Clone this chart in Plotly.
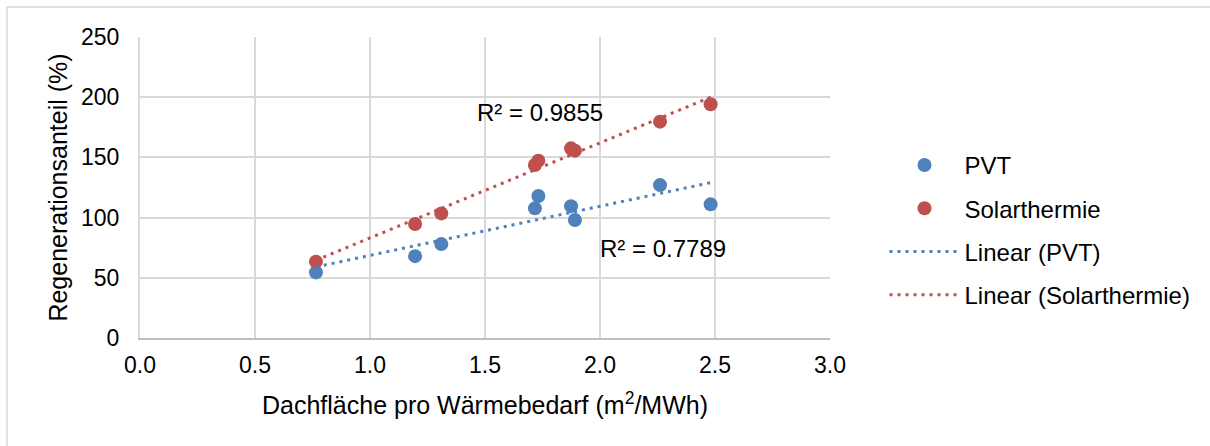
import numpy as np
import plotly.graph_objects as go

# Data
x_vals = [0.765, 1.196, 1.31, 1.717, 1.732, 1.874, 1.891, 2.261, 2.481]
pvt = [54.5, 68.0, 78.0, 107.7, 117.9, 109.5, 98.0, 127.0, 111.0]
solar = [63.4, 94.7, 103.5, 143.7, 147.3, 157.5, 155.6, 179.7, 194.1]
r2_labels = ["R² = 0.7789", "R² = 0.9855"]
x_ticks = [0.0, 0.5, 1.0, 1.5, 2.0, 2.5, 3.0]
y_ticks = [0, 50, 100, 150, 200, 250]

BLUE = "#4F81BD"
RED = "#C0504D"
FONT = "Liberation Sans, Arial, sans-serif"

def trend(xs, ys):
    m, b = np.polyfit(xs, ys, 1)
    xr = np.array([min(xs), max(xs)])
    return xr, m * xr + b

fig = go.Figure()
fig.add_trace(go.Scatter(x=x_vals, y=pvt, mode="markers", name="PVT",
                         marker=dict(color=BLUE, size=14), legendgroup="a"))
fig.add_trace(go.Scatter(x=x_vals, y=solar, mode="markers", name="Solarthermie",
                         marker=dict(color=RED, size=14), legendgroup="b"))
tx, ty = trend(x_vals, pvt)
fig.add_trace(go.Scatter(x=tx, y=ty, mode="lines", name="Linear (PVT)",
                         line=dict(color=BLUE, width=3, dash="3px,5px"), legendgroup="c"))
tx2, ty2 = trend(x_vals, solar)
fig.add_trace(go.Scatter(x=tx2, y=ty2, mode="lines", name="Linear (Solarthermie)",
                         line=dict(color=RED, width=3, dash="3px,5px"), legendgroup="d"))

fig.add_annotation(x=2.274, y=74.7, text=r2_labels[0], showarrow=False,
                   font=dict(size=24, color="#000000", family=FONT))
fig.add_annotation(x=1.739, y=186.9, text=r2_labels[1], showarrow=False,
                   font=dict(size=24, color="#000000", family=FONT))

# outer chart border (top and left visible)
fig.add_shape(type="rect", xref="paper", yref="paper",
              x0=-0.1928, x1=1.6, y0=-0.40, y1=1.0997,
              line=dict(color="#d9d9d9", width=1.5), layer="below")

fig.update_layout(
    width=1210, height=446,
    margin=dict(l=140, r=380, t=37, b=108),
    paper_bgcolor="white", plot_bgcolor="white",
    font=dict(family=FONT, size=23, color="#000000"),
    showlegend=True,
    legend=dict(x=1.079, y=0.359, xanchor="left", yanchor="middle",
                tracegroupgap=9, itemwidth=70,
                font=dict(size=24, family=FONT, color="#000000"),
                bgcolor="rgba(0,0,0,0)"),
    xaxis=dict(range=[0, 3.0], tickvals=x_ticks, ticktext=[f"{v:.1f}" for v in x_ticks],
               showgrid=True, gridcolor="#d9d9d9", gridwidth=2,
               zeroline=False, showline=True, linecolor="#bfbfbf", linewidth=2,
               ticks="", tickfont=dict(size=23), ticklabelstandoff=5,
               title=dict(text="Dachfläche pro Wärmebedarf (m<sup>2</sup>/MWh)",
                          font=dict(size=25), standoff=20)),
    yaxis=dict(range=[0, 250], tickvals=y_ticks,
               showgrid=True, gridcolor="#d9d9d9", gridwidth=2,
               zeroline=False, showline=True, linecolor="#d9d9d9", linewidth=2,
               ticks="", tickfont=dict(size=23), ticklabelstandoff=14,
               title=dict(text="Regenerationsanteil (%)", font=dict(size=25), standoff=6)),
)

fig.write_html("out.html")
